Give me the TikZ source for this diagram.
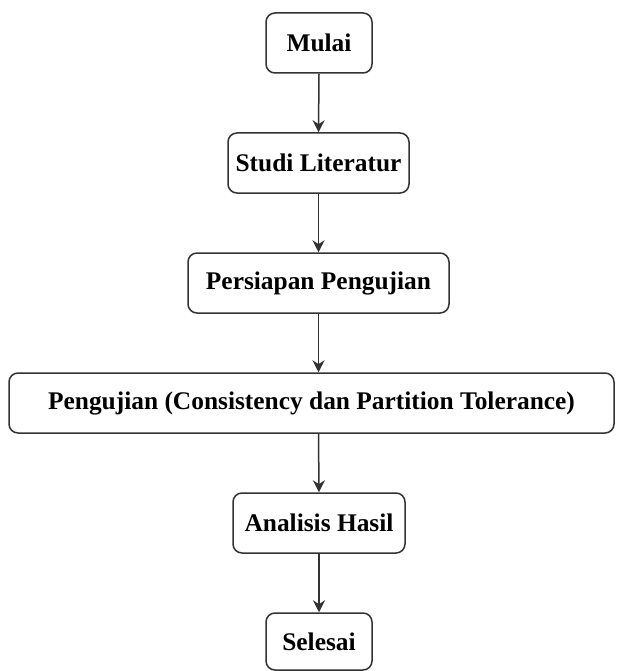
\documentclass[tikz,border=0pt]{standalone}
\usepackage{fontspec}
\setmainfont{Liberation Serif}
\usetikzlibrary{arrows.meta}
\definecolor{edge}{HTML}{333333}
\begin{document}
\begin{tikzpicture}[x=1pt,y=-1pt,
  box/.style={draw=edge,line width=1.5pt,rounded corners=9pt,minimum height=60pt,inner sep=0pt,font=\fontsize{25.4}{30}\selectfont\bfseries,fill=white},
  flow/.style={draw=edge,line width=1.5pt,-{Stealth[length=12pt,width=12pt]}}]
\useasboundingbox (0,0) rectangle (616,671);
\node[box,minimum width=106pt] (mulai) at (319,43) {Mulai};
\node[box,minimum width=181pt] (studi) at (318.5,163) {Studi Literatur};
\node[box,minimum width=261pt] (persiapan) at (318.5,283) {Persiapan Pengujian};
\node[box,minimum width=605pt] (uji) at (311.5,403) {Pengujian (Consistency dan Partition Tolerance)};
\node[box,minimum width=172pt] (analisis) at (319,523) {Analisis Hasil};
\node[box,minimum width=106pt,minimum height=57pt] (selesai) at (319,641.5) {Selesai};
\draw[flow] (mulai.south) -- (studi.north);
\draw[flow] (studi.south) -- (persiapan.north);
\draw[flow] (persiapan.south) -- (persiapan.south |- uji.north);
\draw[flow] (persiapan.south |- uji.south) -- (analisis.north);
\draw[flow] (analisis.south) -- (selesai.north);
\end{tikzpicture}
\end{document}
